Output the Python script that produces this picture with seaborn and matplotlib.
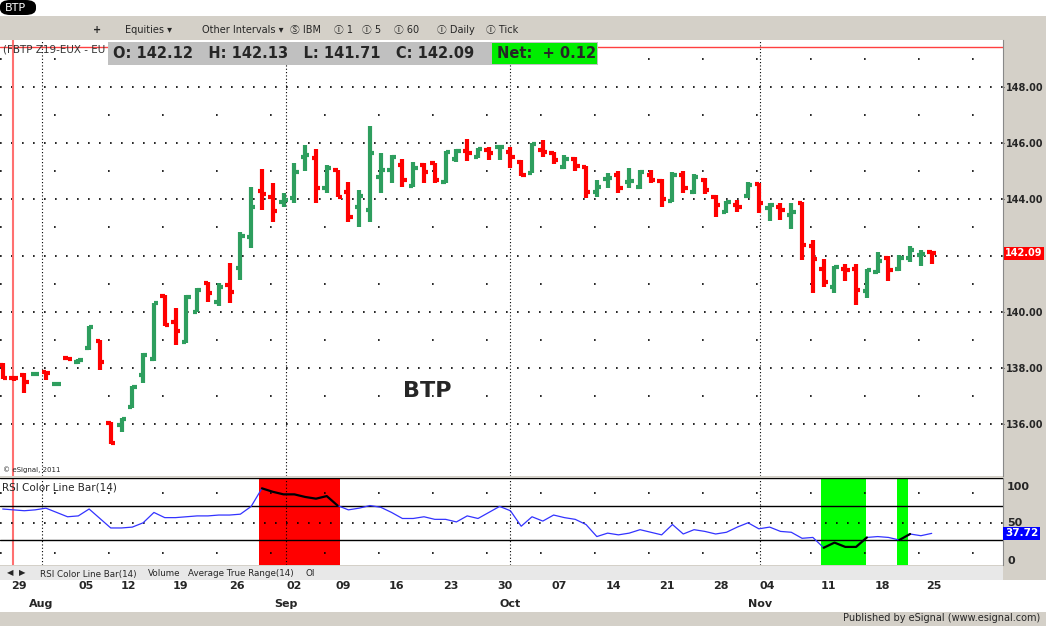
import matplotlib
matplotlib.use("Agg")
import matplotlib.pyplot as plt
import matplotlib.transforms as mtransforms
from matplotlib.patches import Rectangle, FancyBboxPatch
import numpy as np
import pandas as pd
import seaborn as sns

# ---- data (one bar per trading day) ----
opens = [138.10, 137.66, 137.75, 137.78, 137.87, 137.42, 138.34, 138.20, 138.70, 138.97,
         136.05, 135.97, 136.60, 137.75, 138.31, 140.56, 139.65, 138.94, 140.00, 141.01,
         140.36, 140.95, 141.55, 142.65, 144.31, 144.10, 143.92, 144.04, 145.52, 145.46,
         144.39, 145.05, 144.27, 143.74, 143.62, 144.81, 145.04, 145.22, 144.48, 145.22,
         145.28, 144.63, 145.42, 145.73, 145.50, 145.76, 145.85, 145.70, 145.34, 144.95,
         145.76, 145.64, 145.16, 145.42, 145.14, 144.27, 144.72, 144.87, 144.63, 144.43,
         144.87, 144.67, 143.95, 144.87, 144.27, 144.69, 144.10, 143.56, 143.80, 144.12,
         144.55, 143.68, 143.74, 143.44, 143.86, 142.34, 141.54, 140.89, 141.54, 141.54,
         140.75, 141.43, 141.90, 141.54, 141.90, 142.02, 142.12]
highs = [138.17, 137.72, 137.81, 137.81, 137.90, 137.45, 138.35, 138.33, 139.50, 138.99,
         136.09, 136.21, 137.36, 138.52, 140.33, 140.61, 140.12, 140.60, 140.84, 141.07,
         141.01, 141.73, 142.85, 144.45, 145.07, 144.57, 144.22, 145.31, 145.94, 145.78,
         145.22, 145.05, 144.63, 144.33, 146.61, 145.64, 145.58, 145.42, 145.34, 145.28,
         145.31, 145.73, 145.78, 146.14, 145.82, 145.85, 145.90, 145.85, 145.40, 146.00,
         146.11, 145.70, 145.58, 145.52, 145.19, 144.69, 144.93, 145.02, 145.10, 145.04,
         145.04, 144.71, 144.99, 145.02, 144.90, 144.75, 144.15, 143.95, 143.98, 144.63,
         144.59, 143.86, 143.88, 143.86, 143.92, 142.55, 141.87, 141.63, 141.70, 141.70,
         141.54, 142.14, 141.98, 142.02, 142.34, 142.20, 142.13]
lows = [137.60, 137.55, 137.12, 137.77, 137.57, 137.41, 138.30, 138.14, 138.66, 137.93,
        135.30, 135.74, 136.57, 137.46, 138.26, 139.50, 138.82, 138.90, 139.98, 140.36,
        140.21, 140.33, 141.13, 142.28, 143.62, 143.21, 143.72, 143.88, 145.02, 143.86,
        144.22, 144.07, 143.21, 143.03, 143.21, 144.21, 144.59, 144.43, 144.43, 144.57,
        144.59, 144.59, 145.34, 145.38, 145.46, 145.40, 145.40, 145.10, 144.83, 144.93,
        145.50, 145.26, 145.07, 145.02, 144.04, 144.07, 144.39, 144.24, 144.39, 144.36,
        144.57, 143.74, 143.92, 144.21, 144.19, 144.19, 143.36, 143.53, 143.56, 144.04,
        143.50, 143.24, 143.26, 142.93, 141.84, 140.66, 140.89, 140.68, 141.11, 140.24,
        140.48, 141.39, 141.11, 141.46, 141.78, 141.63, 141.71]
closes = [137.65, 137.64, 137.51, 137.80, 137.81, 137.44, 138.32, 138.29, 139.47, 138.23,
          135.32, 136.17, 137.34, 138.46, 140.30, 139.53, 139.33, 140.52, 140.78, 140.66,
          140.89, 140.72, 142.70, 143.74, 144.19, 143.60, 143.98, 144.99, 145.58, 144.39,
          145.11, 144.10, 143.38, 144.12, 145.64, 145.04, 145.52, 144.69, 145.10, 144.99,
          144.69, 145.70, 145.73, 145.64, 145.78, 145.66, 145.86, 145.52, 144.87, 145.97,
          145.70, 145.40, 145.42, 145.19, 144.27, 144.45, 144.75, 144.39, 144.67, 144.99,
          144.69, 144.00, 144.87, 144.39, 144.81, 144.33, 143.80, 143.92, 143.74, 144.51,
          143.86, 143.80, 143.62, 143.56, 142.38, 141.87, 141.07, 141.60, 141.49, 140.77,
          141.49, 141.82, 141.49, 141.90, 142.20, 142.06, 142.09]
rsi = [66, 65, 64, 65, 67, 62, 57, 58, 66, 55, 44, 44, 45, 50, 62, 56, 56, 57, 58, 58,
       59, 59, 60, 69, 90, 86, 83, 83, 80, 78, 81, 70, 65, 67, 70, 68, 62, 55, 55, 57,
       54, 54, 51, 58, 55, 62, 69, 64, 46, 57, 52, 59, 56, 54, 48, 34, 38, 36, 38, 42,
       39, 36, 48, 37, 42, 40, 37, 39, 45, 50, 43, 45, 40, 39, 32, 33, 21, 27, 22, 22,
       33, 34, 33, 30, 37, 35, 37.72]
# RSI colour zones: (first bar, last bar, colour)
zones = [(24, 31, "#ff0000"), (76, 79.7, "#00ff00"), (83, 83.6, "#00ff00")]

# week labels (position in bars) and month labels
week_pos = [1.5, 7.7, 11.6, 16.5, 21.7, 27.0, 31.5, 36.5, 41.5, 46.5, 51.5, 56.5,
            61.5, 66.5, 70.8, 76.4, 81.4, 86.2]
week_lbl = ["29", "05", "12", "19", "26", "02", "09", "16", "23", "30", "07", "14",
            "21", "28", "04", "11", "18", "25"]
month_pos = [3.6, 26.2, 47.0, 70.1]
month_lbl = ["Aug", "Sep", "Oct", "Nov"]
price_ticks = [136, 138, 140, 142, 144, 146, 148]

df = pd.DataFrame({"open": opens, "high": highs, "low": lows, "close": closes, "rsi": rsi})
df["idx"] = np.arange(len(df))
df["up"] = df["close"] >= df["open"]

sns.set_style("white")
plt.rcParams["font.family"] = ["DejaVu Sans", "Noto Sans CJK SC"]

W, H = 1046, 626
fig = plt.figure(figsize=(W / 100, H / 100), dpi=100, facecolor="#d4d0c8")


def box(x, y, w, h):
    # pixel box (top-left origin) -> figure fractions
    return [x / W, 1 - (y + h) / H, w / W, h / H]


def fx(x):
    return x / W


def fy(y):
    return 1 - y / H


XL = (-0.25, 92.6)
GREEN, RED = "#2e9e5e", "#ff0000"
DOTS_DENSE = (0, (1, 5.6))
DOTS_SPARSE = (0, (1, 31.4))

# ---- price panel ----
ax = fig.add_axes(box(0, 40, 1003, 436), facecolor="white")
ax.set_xlim(*XL)
ax.set_ylim(134.16, 149.67)
for p in price_ticks:
    ax.axhline(p, color="black", lw=1.2, ls=DOTS_DENSE)
    ax.axhline(p + 1, color="black", lw=1.2, ls=DOTS_SPARSE)
for m in month_pos:
    ax.axvline(m, color="black", lw=0.8, ls=(0, (1, 2)))
ax.axhline(149.42, color="#ff4040", lw=1)
ax.axvline(0.95, color="#ff7070", lw=1.5)

cols = np.where(df["up"], GREEN, RED)
ax.vlines(df["idx"], df["low"], df["high"], colors=cols, lw=3)
ax.hlines(df["open"], df["idx"] - 0.4, df["idx"], colors=cols, lw=3)
ax.hlines(df["close"], df["idx"], df["idx"] + 0.4, colors=cols, lw=3)

ax.yaxis.tick_right()
ax.set_yticks(price_ticks)
ax.set_yticklabels(["" if p == 142 else f"{p:.2f}" for p in price_ticks],
                   fontsize=7, fontweight="bold")
ax.tick_params(axis="y", length=1, pad=1)
ax.set_xticks([])
for s in ["top", "left", "bottom"]:
    ax.spines[s].set_visible(False)
ax.spines["right"].set_color("#888888")
ax.text(39.3, 137.2, "BTP", fontsize=16, fontweight="bold", ha="center", va="center")
ax.text(1.002, closes[-1], "142.09",
        transform=mtransforms.blended_transform_factory(ax.transAxes, ax.transData),
        fontsize=7, fontweight="bold", color="white", va="center",
        bbox=dict(boxstyle="square,pad=0.15", fc="#ff0000", ec="none"))
ax.text(0.003, 0.01, "© eSignal, 2011", transform=ax.transAxes, fontsize=5)

# ---- RSI panel ----
ar = fig.add_axes(box(0, 478, 1003, 87), facecolor="white")
ar.set_xlim(*XL)
ar.set_ylim(1, 102)
for a, b, c in zones:
    ar.axvspan(a - 0.25, b + 0.25, color=c, lw=0)
for m in month_pos:
    ar.axvline(m, color="black", lw=0.8, ls=(0, (1, 2)))
ar.axvline(0.95, color="#ff7070", lw=1.5)
ar.axhline(70, color="black", lw=1)
ar.axhline(30, color="black", lw=1)
ar.axhline(50, color="black", lw=1.2, ls=DOTS_DENSE)
for lv in [85, 15]:
    ar.axhline(lv, color="black", lw=1.2, ls=DOTS_SPARSE)
sns.lineplot(data=df, x="idx", y="rsi", ax=ar, color="#3333ff", lw=0.9)
for a, b, c in zones:
    seg = df[(df["idx"] >= a) & (df["idx"] <= np.ceil(b))]
    sns.lineplot(x=seg["idx"], y=seg["rsi"], ax=ar, color="black", lw=1.6)
ar.set_xlabel("")
ar.set_ylabel("")
ar.set_xticks([])
ar.yaxis.tick_right()
ar.set_yticks([93, 51, 6.5])
ar.set_yticklabels(["100", "50", "0"], fontsize=8, fontweight="bold")
ar.tick_params(axis="y", length=0, pad=3)
for s in ["top", "left", "bottom"]:
    ar.spines[s].set_visible(False)
ar.spines["right"].set_color("#888888")
ar.plot([XL[0], XL[1]], [102, 102], color="black", lw=1)
ar.text(1.002, rsi[-1], "37.72",
        transform=mtransforms.blended_transform_factory(ar.transAxes, ar.transData),
        fontsize=7.5, fontweight="bold", color="white", va="center",
        bbox=dict(boxstyle="square,pad=0.15", fc="#0000ff", ec="none"))
ar.text(0.002, 0.86, "RSI Color Line Bar(14)", transform=ar.transAxes, fontsize=7.5)

# ---- date axis ----
fig.add_artist(Rectangle((0, fy(612)), 1, fy(580) - fy(612), transform=fig.transFigure,
                         fc="white", ec="none", zorder=-1))
ad = fig.add_axes(box(0, 580, 1003, 32))
ad.set_xlim(*XL)
ad.set_ylim(0, 1)
ad.axis("off")
for p, l in zip(week_pos, week_lbl):
    ad.text(p, 0.8, l, ha="center", va="center", fontsize=8, fontweight="bold")
for p, l in zip(month_pos, month_lbl):
    ad.text(p, 0.25, l, ha="center", va="center", fontsize=8, fontweight="bold")

# tab strip under RSI
fig.add_artist(Rectangle((0, fy(580)), fx(1003), fy(566) - fy(580), transform=fig.transFigure,
                         fc="#e8e8e8", ec="none"))
tabx = 10
for t in ["◀", "▶"]:
    fig.text(fx(tabx), fy(573), t, fontsize=6, va="center", ha="center")
    tabx += 12
for t, x0 in [("RSI Color Line Bar(14)", 40), ("Volume", 148), ("Average True Range(14)", 188), ("OI", 306)]:
    fig.text(fx(x0), fy(574), t, fontsize=6.3, va="center")

# ---- top toolbar ----
fig.add_artist(Rectangle((0, fy(16)), 1, fy(0) - fy(16), transform=fig.transFigure, fc="white",
                         ec="none", zorder=-1))
tab = FancyBboxPatch((0, fy(15)), fx(36), fy(0) - fy(15), boxstyle="round,pad=0,rounding_size=0.01",
                     transform=fig.transFigure, fc="black", ec="none")
fig.add_artist(tab)
fig.text(fx(5), fy(8), "BTP", color="white", fontsize=8, va="center")
for t, x0 in [("Equities ▾", 125), ("Other Intervals ▾", 202), ("Ⓢ IBM", 290), ("Ⓘ 1", 334),
              ("Ⓘ 5", 362), ("Ⓘ 60", 394), ("Ⓘ Daily", 437), ("Ⓘ Tick", 486), ("+", 93)]:
    fig.text(fx(x0), fy(30), t, fontsize=7, va="center",
             fontweight="bold" if t == "+" else "normal")
fig.text(fx(3), fy(49), "(FBTP Z19-EUX - EU", fontsize=7.5, va="center", color="#333333")
fig.add_artist(Rectangle((fx(108), fy(65)), fx(490), fy(42) - fy(65), transform=fig.transFigure,
                         fc="#c0c0c0", ec="none"))
fig.add_artist(Rectangle((fx(492), fy(64)), fx(105), fy(43) - fy(64), transform=fig.transFigure,
                         fc="#00ee00", ec="none"))
fig.text(fx(113), fy(53), "O: 142.12   H: 142.13   L: 141.71   C: 142.09", fontsize=10.5,
         fontweight="bold", va="center")
fig.text(fx(497), fy(53), "Net:  + 0.12", fontsize=10.5, fontweight="bold", va="center")

fig.text(fx(1040), fy(618), "Published by eSignal (www.esignal.com)", fontsize=7, ha="right", va="center")

fig.savefig("out.png", dpi=100, facecolor=fig.get_facecolor())
